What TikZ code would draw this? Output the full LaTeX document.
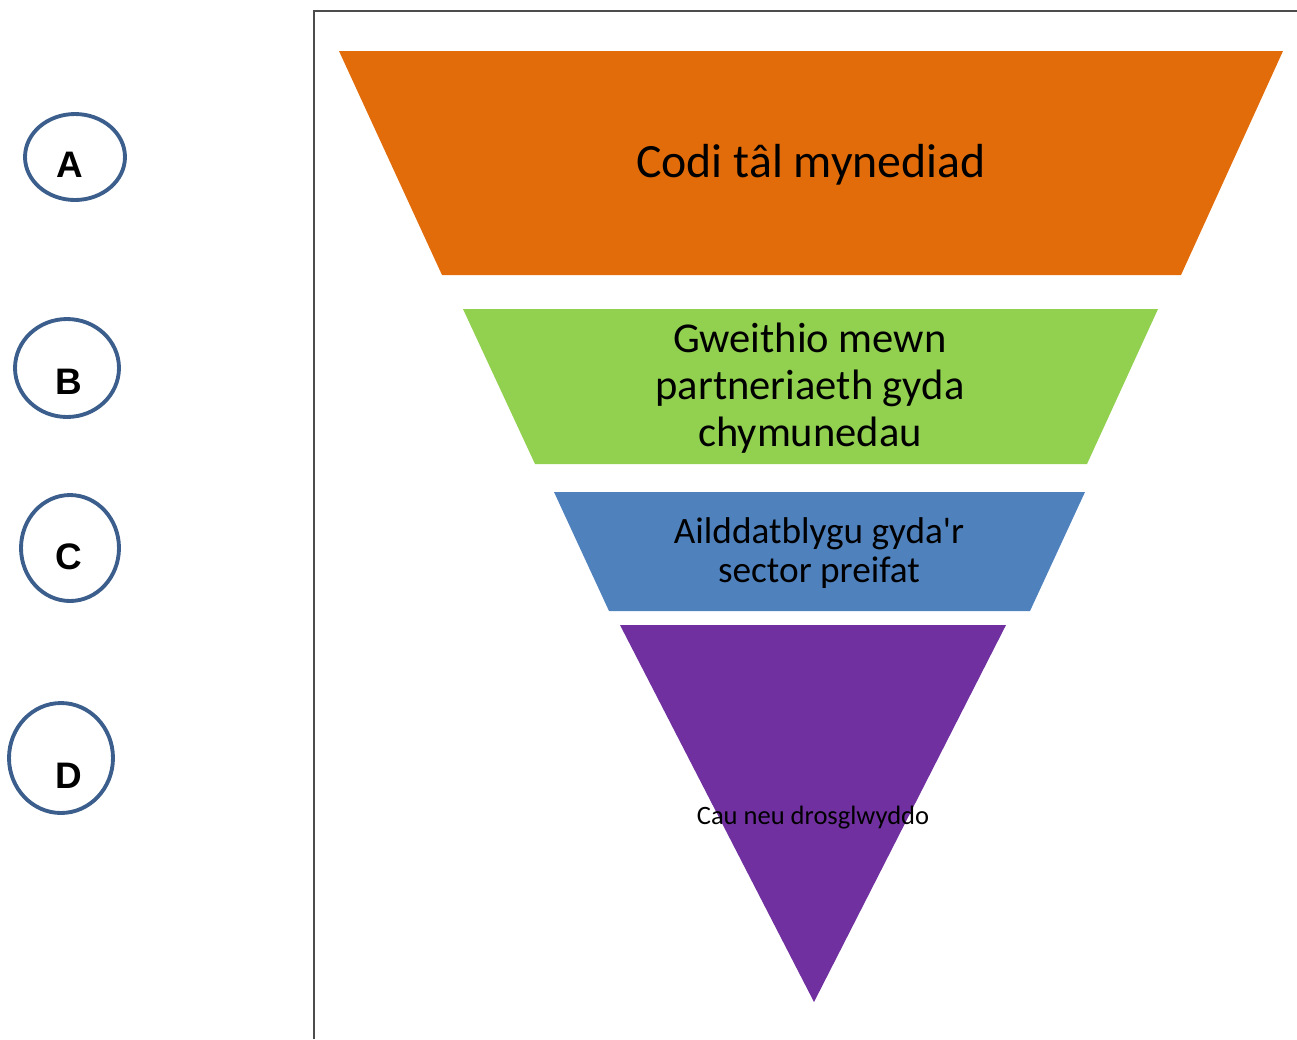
\documentclass[tikz,border=0pt]{standalone}
\usepackage{fontspec}
\setmainfont{Carlito}
\newfontfamily\letterfont{Liberation Sans}
\usetikzlibrary{shapes.geometric}

\definecolor{orangeband}{HTML}{E36C0A}
\definecolor{greenband}{HTML}{92D050}
\definecolor{blueband}{HTML}{4F81BD}
\definecolor{purpleband}{HTML}{7030A0}
\definecolor{ringblue}{HTML}{3B5E8C}

\tikzset{
  ring/.style={draw=ringblue,line width=2.2pt,ellipse,inner sep=0pt},
  letter/.style={font=\letterfont\bfseries\fontsize{21}{24}\selectfont},
  bandtext/.style={align=center,text=black}
}

\begin{document}
\begin{tikzpicture}[x=0.02cm,y=-0.02cm]
\useasboundingbox (0,0) rectangle (1297,1039);
\draw[line width=0.6pt,black!70] (314,1039) -- (314,11) -- (1297,11);
% funnel bands
\fill[orangeband] (339,51) -- (1283,51) -- (1181,275) -- (442,275) -- cycle;
\fill[greenband]  (463,309) -- (1158,309) -- (1087,464) -- (535,464) -- cycle;
\fill[blueband]   (554,492) -- (1085,492) -- (1030,611) -- (609,611) -- cycle;
\fill[purpleband] (620,625) -- (1006,625) -- (814,1002) -- cycle;
\node[bandtext,font=\fontsize{27.2}{32}\selectfont] (access) at (811,165) {Codi tâl mynediad};
\node[bandtext,font=\fontsize{24.2}{26.6}\selectfont] (partner) at (810,388) {Gweithio mewn\\partneriaeth gyda\\chymunedau};
\node[bandtext,font=\fontsize{21.2}{22.7}\selectfont] (private) at (819,553) {Ailddatblygu gyda\textquotesingle r\\sector preifat};
\node[bandtext,font=\fontsize{15.1}{18}\selectfont] (close) at (813,818) {Cau neu drosglwyddo};
% option rings
\node[ring,minimum width=2cm,minimum height=1.72cm] (ringA) at (75,157) {};
\node[ring,minimum width=2.08cm,minimum height=1.96cm] (ringB) at (67,368) {};
\node[ring,minimum width=1.96cm,minimum height=2.12cm] (ringC) at (70,548) {};
\node[ring,minimum width=2.08cm,minimum height=2.2cm] (ringD) at (61,758) {};
\node[letter] (labA) at (70,165) {A};
\node[letter] (labB) at (69,382) {B};
\node[letter] (labC) at (69,557) {C};
\node[letter] (labD) at (69,776) {D};
\end{tikzpicture}
\end{document}
